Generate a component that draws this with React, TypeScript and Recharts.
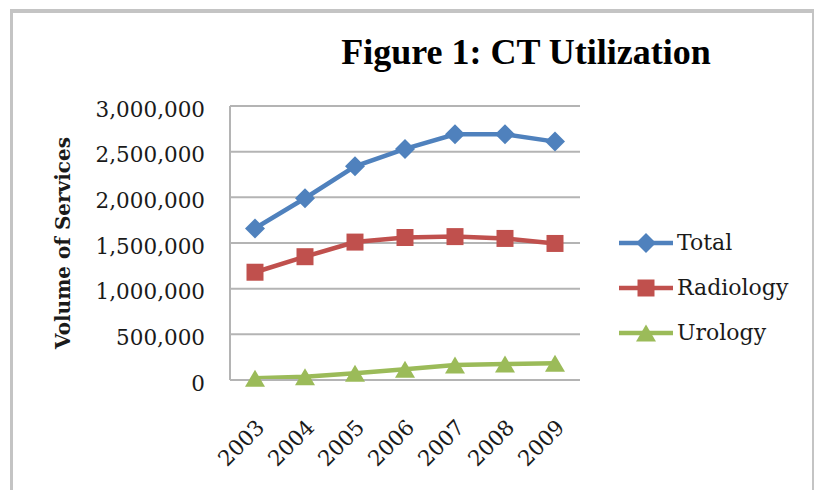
import React from 'react';
import { LineChart, Line, XAxis, YAxis, CartesianGrid, Legend } from 'recharts';

const years = ['2003', '2004', '2005', '2006', '2007', '2008', '2009'];
const totalValues = [1660000, 1990000, 2340000, 2530000, 2690000, 2690000, 2610000];
const radiologyValues = [1180000, 1350000, 1510000, 1560000, 1570000, 1550000, 1495000];
const urologyValues = [20000, 36000, 73000, 117000, 164000, 175000, 183000];
const yTicks = [0, 500000, 1000000, 1500000, 2000000, 2500000, 3000000];

const seriesOrder = ['total', 'radiology', 'urology'];
const seriesNames = { total: 'Total', radiology: 'Radiology', urology: 'Urology' };
const seriesColors = { total: '#4F81BD', radiology: '#C0504D', urology: '#9BBB59' };

const data = years.map((y, i) => ({
  year: y,
  total: totalValues[i],
  radiology: radiologyValues[i],
  urology: urologyValues[i],
}));

const FONT = '"DejaVu Serif", serif';
const GRID = '#b4b4b4';

function markerPath(kind: string, cx: number, cy: number) {
  if (kind === 'total') {
    const r = 10;
    return `M${cx},${cy - r} L${cx + r},${cy} L${cx},${cy + r} L${cx - r},${cy} Z`;
  }
  if (kind === 'radiology') {
    const r = 8.5;
    return `M${cx - r},${cy - r} L${cx + r},${cy - r} L${cx + r},${cy + r} L${cx - r},${cy + r} Z`;
  }
  const w = 10, h = 8.5;
  return `M${cx},${cy - h} L${cx + w},${cy + h} L${cx - w},${cy + h} Z`;
}

const makeDot = (kind: string) => (props: any) => {
  const { cx, cy, index } = props;
  if (cx == null || cy == null) return <g key={`${kind}-${index}`} />;
  return (
    <path
      key={`${kind}-${index}`}
      d={markerPath(kind, cx, cy)}
      fill={(seriesColors as any)[kind]}
      stroke="none"
    />
  );
};

const LegendContent = (props: any) => {
  const payload = [...(props.payload || [])].sort(
    (a: any, b: any) => seriesOrder.indexOf(a.dataKey) - seriesOrder.indexOf(b.dataKey)
  );
  return (
    <div style={{ display: 'flex', flexDirection: 'column' }}>
      {payload.map((entry: any) => {
        const key = entry.dataKey as string;
        const color = (seriesColors as any)[key];
        return (
          <div key={key} style={{ display: 'flex', alignItems: 'center', height: 45 }}>
            <svg width={58} height={24} style={{ display: 'block' }}>
              <line x1={0} y1={12} x2={54} y2={12} stroke={color} strokeWidth={4.5} />
              <path d={markerPath(key, 27, 12)} fill={color} />
            </svg>
            <span style={{ fontFamily: FONT, fontSize: 22, color: '#1a1a1a', lineHeight: '24px' }}>
              {entry.value}
            </span>
          </div>
        );
      })}
    </div>
  );
};

export default function App() {
  return (
    <div style={{ position: 'absolute', left: 0, top: 0, width: 814, height: 490, background: '#fff', overflow: 'hidden' }}>
      <div
        style={{
          position: 'absolute',
          left: 10,
          top: 9,
          width: 799,
          height: 490,
          borderLeft: '3px solid #c4c4c4',
          borderTop: '4px solid #c4c4c4',
          borderRight: '3px solid #c4c4c4',
          boxSizing: 'content-box',
        }}
      />
      <div style={{ position: 'absolute', left: 0, top: 0 }}>
        <LineChart
          width={814}
          height={490}
          data={data}
          margin={{ top: 106, right: 234, bottom: 0, left: 0 }}
        >
          <CartesianGrid vertical={false} stroke={GRID} strokeWidth={2} />
          <XAxis
            dataKey="year"
            padding={{ left: 25, right: 25 }}
            axisLine={{ stroke: GRID, strokeWidth: 2 }}
            tickLine={false}
            tickSize={6}
            tickMargin={32}
            height={110}
            interval={0}
            tick={{ angle: -45, textAnchor: 'end', verticalAnchor: 'middle', fontFamily: FONT, fontSize: 21.5, fill: '#1a1a1a' }}
          />
          <YAxis
            width={230}
            domain={[0, 3000000]}
            ticks={yTicks}
            interval={0}
            axisLine={{ stroke: GRID, strokeWidth: 2 }}
            tickLine={false}
            tickSize={6}
            tickMargin={19}
            tickFormatter={(v: number) => v.toLocaleString('en-US')}
            tick={{ fontFamily: FONT, fontSize: 21.5, fill: '#1a1a1a', dy: 3 }}
          />
          <Legend
            layout="horizontal"
            align="center"
            verticalAlign="middle"
            content={LegendContent}
            wrapperStyle={{ left: 619, top: 220, width: 190, height: 140 }}
          />
          <Line
            type="linear"
            dataKey="total"
            name={seriesNames.total}
            stroke={seriesColors.total}
            strokeWidth={4.5}
            dot={makeDot('total')}
            activeDot={false}
            isAnimationActive={false}
          />
          <Line
            type="linear"
            dataKey="radiology"
            name={seriesNames.radiology}
            stroke={seriesColors.radiology}
            strokeWidth={4.5}
            dot={makeDot('radiology')}
            activeDot={false}
            isAnimationActive={false}
          />
          <Line
            type="linear"
            dataKey="urology"
            name={seriesNames.urology}
            stroke={seriesColors.urology}
            strokeWidth={4.5}
            dot={makeDot('urology')}
            activeDot={false}
            isAnimationActive={false}
          />
        </LineChart>
      </div>
      <svg
        width={814}
        height={490}
        style={{ position: 'absolute', left: 0, top: 0, pointerEvents: 'none' }}
      >
        <text
          x={526}
          y={64}
          textAnchor="middle"
          fontFamily='"Liberation Serif", serif'
          fontWeight="bold"
          fontSize={36}
          fill="#000"
        >
          Figure 1: CT Utilization
        </text>
        <text
          x={0}
          y={0}
          transform="translate(70, 243) rotate(-90)"
          textAnchor="middle"
          fontFamily={FONT}
          fontWeight="bold"
          fontSize={20}
          fill="#1a1a1a"
        >
          Volume of Services
        </text>
      </svg>
    </div>
  );
}
